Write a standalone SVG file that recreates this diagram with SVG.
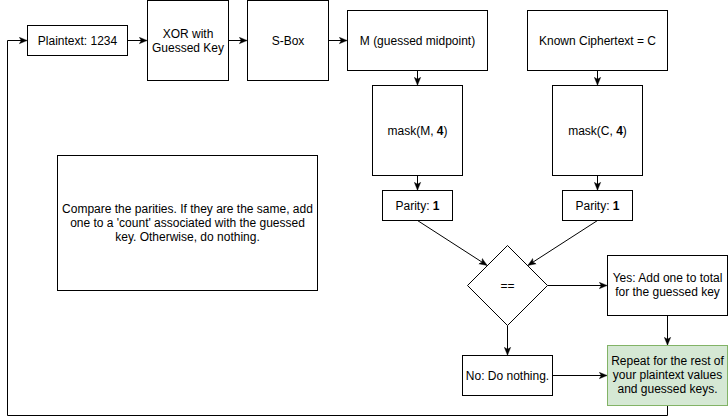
<svg xmlns="http://www.w3.org/2000/svg" width="728" height="417" viewBox="0 0 728 417">
  <style>
    .box { fill: #ffffff; stroke: #000000; stroke-width: 1; }
    .green { fill: #d5e8d4; stroke: #82b366; stroke-width: 1; }
    .lbl { font-family: "Liberation Sans", Arial, sans-serif; font-size: 12px; fill: #000000; text-anchor: middle; }
    .edge { fill: none; stroke: #000000; stroke-width: 1; marker-end: url(#arrow); }
    .plain { fill: none; stroke: #000000; stroke-width: 1; }
  </style>
  <defs>
    <marker id="arrow" viewBox="0 0 10 10" refX="9" refY="5" markerWidth="8" markerHeight="8" markerUnits="userSpaceOnUse" orient="auto">
      <path d="M0,1 L10,5 L0,9 L2.5,5 z" fill="#000000" stroke="#000000" stroke-width="0.5"/>
    </marker>
  </defs>
  <rect width="728" height="417" fill="#ffffff"/>

  <g id="connectors">
    <path class="edge" d="M127.5,40.5 H146.5"/>
    <path class="edge" d="M228.5,40.5 H246.5"/>
    <path class="edge" d="M328.5,40.5 H346.5"/>
    <path class="edge" d="M417.5,70.5 V84.5"/>
    <path class="edge" d="M597.5,70.5 V84.5"/>
    <path class="edge" d="M417.5,175.5 V189.5"/>
    <path class="edge" d="M597.5,175.5 V189.5"/>
    <path class="edge" d="M417.5,220.5 L486.5,265"/>
    <path class="edge" d="M597.5,220.5 L528.5,265"/>
    <path class="edge" d="M547.5,285.5 H606.5"/>
    <path class="edge" d="M507.5,325.5 V354.5"/>
    <path class="edge" d="M667.5,315.5 V344.5"/>
    <path class="edge" d="M552.5,375.5 H606.5"/>
    <path class="edge" d="M667.5,405.5 V415.5 H7.5 V40.5 H26.5"/>
  </g>

  <g id="plaintext">
    <rect class="box" x="27.5" y="25.5" width="100" height="30"/>
    <text class="lbl" x="77.5" y="44.5">Plaintext: 1234</text>
  </g>

  <g id="xor">
    <rect class="box" x="147.5" y="0.5" width="81" height="80"/>
    <text class="lbl" x="188" y="37.5">XOR with</text>
    <text class="lbl" x="188" y="51.5">Guessed Key</text>
  </g>

  <g id="sbox">
    <rect class="box" x="247.5" y="0.5" width="81" height="80"/>
    <text class="lbl" x="288" y="44.5">S-Box</text>
  </g>

  <g id="midpoint">
    <rect class="box" x="347.5" y="10.5" width="140" height="60"/>
    <text class="lbl" x="417.5" y="44.5">M (guessed midpoint)</text>
  </g>

  <g id="ciphertext">
    <rect class="box" x="527.5" y="10.5" width="140" height="60"/>
    <text class="lbl" x="597.5" y="44.5">Known Ciphertext = C</text>
  </g>

  <g id="mask-m">
    <rect class="box" x="372.5" y="85.5" width="90" height="90"/>
    <text class="lbl" x="417.5" y="134.5">mask(M, <tspan font-weight="bold">4</tspan>)</text>
  </g>

  <g id="mask-c">
    <rect class="box" x="552.5" y="85.5" width="90" height="90"/>
    <text class="lbl" x="597.5" y="134.5">mask(C, <tspan font-weight="bold">4</tspan>)</text>
  </g>

  <g id="parity-m">
    <rect class="box" x="382.5" y="190.5" width="70" height="30"/>
    <text class="lbl" x="417.5" y="209.5">Parity: <tspan font-weight="bold">1</tspan></text>
  </g>

  <g id="parity-c">
    <rect class="box" x="562.5" y="190.5" width="70" height="30"/>
    <text class="lbl" x="597.5" y="209.5">Parity: <tspan font-weight="bold">1</tspan></text>
  </g>

  <g id="compare">
    <path class="box" d="M507.5,245.5 L547.5,285.5 L507.5,325.5 L467.5,285.5 Z"/>
    <text class="lbl" x="507.5" y="289.5">==</text>
  </g>

  <g id="yes">
    <rect class="box" x="607.5" y="255.5" width="120" height="60"/>
    <text class="lbl" x="667.5" y="282">Yes: Add one to total</text>
    <text class="lbl" x="667.5" y="296">for the guessed key</text>
  </g>

  <g id="no">
    <rect class="box" x="462.5" y="355.5" width="90" height="40"/>
    <text class="lbl" x="507.5" y="379.5">No: Do nothing.</text>
  </g>

  <g id="repeat">
    <rect class="green" x="607.5" y="345.5" width="120" height="60"/>
    <text class="lbl" x="667.5" y="365">Repeat for the rest of</text>
    <text class="lbl" x="667.5" y="379">your plaintext values</text>
    <text class="lbl" x="667.5" y="393">and guessed keys.</text>
  </g>

  <g id="note">
    <rect class="box" x="57.5" y="155.5" width="260" height="135"/>
    <text class="lbl" x="187.5" y="212.5">Compare the parities. If they are the same, add</text>
    <text class="lbl" x="187.5" y="226.5">one to a 'count' associated with the guessed</text>
    <text class="lbl" x="187.5" y="240.5">key. Otherwise, do nothing.</text>
  </g>
</svg>
